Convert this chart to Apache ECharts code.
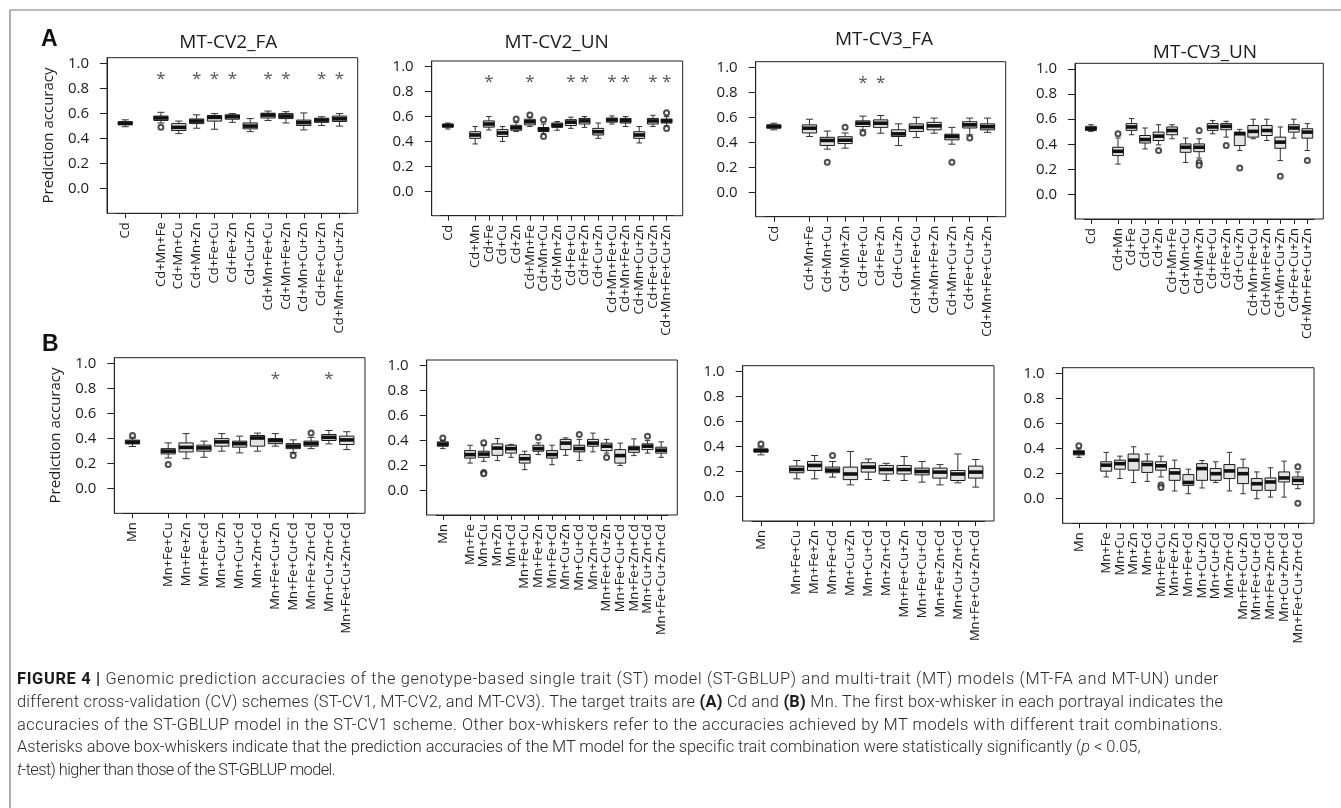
<!DOCTYPE html>
<html>
<head>
<meta charset="utf-8">
<script src="https://cdn.jsdelivr.net/npm/echarts@6/dist/echarts.min.js"></script>
<style>
  html, body { margin: 0; padding: 0; background: #fff; }
  #chart { position: absolute; left: 0; top: 0; width: 1341px; height: 808px; }
  #caption {
    position: absolute; left: 17px; top: 668px; width: 1320px;
    font-family: Roboto, "Liberation Sans", sans-serif; font-weight: 300;
    font-size: 16.4px; line-height: 22.8px; color: #2a2a2a; white-space: nowrap;
  }
  #caption span { display: inline-block; }
  #caption b { font-weight: 700; color: #1a1a1a; }
</style>
</head>
<body>
<div id="chart"></div>
<div id="caption">
  <div><span data-w="1202"><b>FIGURE 4 |</b> Genomic prediction accuracies of the genotype-based single trait (ST) model (ST-GBLUP) and multi-trait (MT) models (MT-FA and MT-UN) under</span></div>
  <div><span data-w="1206">different cross-validation (CV) schemes (ST-CV1, MT-CV2, and MT-CV3). The target traits are <b>(A)</b> Cd and <b>(B)</b> Mn. The first box-whisker in each portrayal indicates the</span></div>
  <div><span data-w="1206">accuracies of the ST-GBLUP model in the ST-CV1 scheme. Other box-whiskers refer to the accuracies achieved by MT models with different trait combinations.</span></div>
  <div><span data-w="1123">Asterisks above box-whiskers indicate that the prediction accuracies of the MT model for the specific trait combination were statistically significantly (<i>p</i> &lt; 0.05,</span></div>
  <div><span data-w="318"><i>t</i>-test) higher than those of the ST-GBLUP model.</span></div>
</div>
<script>
// ---- trait combinations on the x axes ----
const cdCombosShort = ['Cd+Mn+Fe', 'Cd+Mn+Cu', 'Cd+Mn+Zn', 'Cd+Fe+Cu', 'Cd+Fe+Zn', 'Cd+Cu+Zn',
  'Cd+Mn+Fe+Cu', 'Cd+Mn+Fe+Zn', 'Cd+Mn+Cu+Zn', 'Cd+Fe+Cu+Zn', 'Cd+Mn+Fe+Cu+Zn'];
const cdCombosFull = ['Cd+Mn', 'Cd+Fe', 'Cd+Cu', 'Cd+Zn', 'Cd+Mn+Fe', 'Cd+Mn+Cu', 'Cd+Mn+Zn',
  'Cd+Fe+Cu', 'Cd+Fe+Zn', 'Cd+Cu+Zn', 'Cd+Mn+Fe+Cu', 'Cd+Mn+Fe+Zn', 'Cd+Mn+Cu+Zn',
  'Cd+Fe+Cu+Zn', 'Cd+Mn+Fe+Cu+Zn'];
const mnCombosShort = ['Mn+Fe+Cu', 'Mn+Fe+Zn', 'Mn+Fe+Cd', 'Mn+Cu+Zn', 'Mn+Cu+Cd', 'Mn+Zn+Cd',
  'Mn+Fe+Cu+Zn', 'Mn+Fe+Cu+Cd', 'Mn+Fe+Zn+Cd', 'Mn+Cu+Zn+Cd', 'Mn+Fe+Cu+Zn+Cd'];
const mnCombosFull = ['Mn+Fe', 'Mn+Cu', 'Mn+Zn', 'Mn+Cd', 'Mn+Fe+Cu', 'Mn+Fe+Zn', 'Mn+Fe+Cd',
  'Mn+Cu+Zn', 'Mn+Cu+Cd', 'Mn+Zn+Cd', 'Mn+Fe+Cu+Zn', 'Mn+Fe+Cu+Cd', 'Mn+Fe+Zn+Cd',
  'Mn+Cu+Zn+Cd', 'Mn+Fe+Cu+Zn+Cd'];

// ---- box statistics: [lower whisker, Q1, median, Q3, upper whisker]; first row = ST-GBLUP ----
const cv2FaCd = [
  [0.495, 0.51, 0.523, 0.535, 0.55],
  [0.525, 0.545, 0.565, 0.58, 0.61], [0.44, 0.465, 0.49, 0.52, 0.54], [0.483, 0.52, 0.54, 0.557, 0.59],
  [0.475, 0.54, 0.57, 0.585, 0.60], [0.53, 0.555, 0.575, 0.59, 0.60], [0.456, 0.478, 0.50, 0.525, 0.56],
  [0.545, 0.565, 0.588, 0.603, 0.62], [0.525, 0.56, 0.58, 0.60, 0.615], [0.47, 0.505, 0.528, 0.548, 0.605],
  [0.505, 0.53, 0.548, 0.563, 0.575], [0.50, 0.537, 0.558, 0.58, 0.60]
];
const cv2UnCd = [
  [0.50, 0.515, 0.527, 0.54, 0.548],
  [0.38, 0.425, 0.452, 0.478, 0.52], [0.492, 0.515, 0.54, 0.565, 0.60], [0.40, 0.44, 0.468, 0.495, 0.52],
  [0.48, 0.49, 0.51, 0.53, 0.553], [0.52, 0.533, 0.558, 0.578, 0.595], [0.465, 0.48, 0.495, 0.512, 0.54],
  [0.49, 0.513, 0.53, 0.548, 0.56], [0.505, 0.528, 0.555, 0.575, 0.595], [0.513, 0.54, 0.565, 0.585, 0.60],
  [0.425, 0.452, 0.478, 0.505, 0.548], [0.54, 0.555, 0.573, 0.588, 0.605], [0.52, 0.548, 0.567, 0.585, 0.60],
  [0.388, 0.425, 0.452, 0.478, 0.52], [0.52, 0.54, 0.565, 0.585, 0.61], [0.525, 0.548, 0.565, 0.58, 0.60]
];
const cv3FaCd = [
  [0.50, 0.513, 0.527, 0.54, 0.553],
  [0.447, 0.475, 0.513, 0.54, 0.585], [0.345, 0.375, 0.415, 0.44, 0.49], [0.353, 0.39, 0.417, 0.445, 0.475],
  [0.50, 0.527, 0.553, 0.572, 0.61], [0.473, 0.52, 0.553, 0.58, 0.615], [0.374, 0.447, 0.468, 0.50, 0.548],
  [0.438, 0.487, 0.52, 0.548, 0.60], [0.473, 0.50, 0.532, 0.56, 0.594], [0.385, 0.42, 0.447, 0.465, 0.52],
  [0.46, 0.515, 0.54, 0.565, 0.594], [0.48, 0.50, 0.525, 0.548, 0.594]
];
const cv3UnCd = [
  [0.503, 0.511, 0.524, 0.543, 0.556],
  [0.242, 0.31, 0.344, 0.376, 0.45], [0.476, 0.511, 0.538, 0.565, 0.605], [0.363, 0.41, 0.438, 0.47, 0.53],
  [0.395, 0.43, 0.465, 0.497, 0.556], [0.444, 0.476, 0.51, 0.538, 0.556], [0.255, 0.336, 0.376, 0.403, 0.45],
  [0.29, 0.341, 0.376, 0.403, 0.444], [0.484, 0.511, 0.538, 0.565, 0.59], [0.457, 0.516, 0.543, 0.565, 0.583],
  [0.35, 0.39, 0.484, 0.497, 0.519], [0.444, 0.457, 0.503, 0.55, 0.60], [0.43, 0.47, 0.51, 0.55, 0.60],
  [0.27, 0.368, 0.417, 0.457, 0.538], [0.449, 0.497, 0.53, 0.556, 0.60], [0.35, 0.449, 0.497, 0.524, 0.565]
];
const cv2FaMn = [
  [0.337, 0.358, 0.372, 0.388, 0.405],
  [0.246, 0.278, 0.30, 0.32, 0.366], [0.24, 0.294, 0.33, 0.366, 0.44], [0.251, 0.30, 0.326, 0.348, 0.38],
  [0.30, 0.34, 0.374, 0.40, 0.44], [0.286, 0.332, 0.36, 0.38, 0.42], [0.30, 0.34, 0.405, 0.425, 0.444],
  [0.34, 0.36, 0.385, 0.40, 0.44], [0.29, 0.32, 0.34, 0.36, 0.39], [0.32, 0.34, 0.36, 0.38, 0.41],
  [0.358, 0.385, 0.41, 0.433, 0.465], [0.313, 0.353, 0.39, 0.42, 0.455]
];
const cv2UnMn = [
  [0.336, 0.355, 0.372, 0.39, 0.40],
  [0.22, 0.26, 0.288, 0.32, 0.363], [0.234, 0.266, 0.292, 0.315, 0.36], [0.24, 0.282, 0.34, 0.374, 0.417],
  [0.266, 0.30, 0.336, 0.363, 0.37], [0.167, 0.22, 0.255, 0.288, 0.315], [0.288, 0.315, 0.336, 0.363, 0.382],
  [0.207, 0.26, 0.288, 0.32, 0.363], [0.282, 0.328, 0.38, 0.41, 0.422], [0.24, 0.31, 0.336, 0.363, 0.41],
  [0.31, 0.355, 0.38, 0.41, 0.46], [0.30, 0.32, 0.355, 0.38, 0.41], [0.20, 0.22, 0.28, 0.328, 0.38],
  [0.28, 0.306, 0.336, 0.355, 0.414], [0.30, 0.328, 0.355, 0.374, 0.40], [0.266, 0.30, 0.323, 0.347, 0.39]
];
const cv3FaMn = [
  [0.333, 0.355, 0.368, 0.38, 0.395],
  [0.141, 0.19, 0.216, 0.243, 0.288], [0.141, 0.208, 0.248, 0.28, 0.328], [0.155, 0.19, 0.21, 0.235, 0.28],
  [0.093, 0.135, 0.18, 0.235, 0.36], [0.136, 0.195, 0.235, 0.27, 0.30], [0.128, 0.18, 0.216, 0.248, 0.265],
  [0.128, 0.18, 0.215, 0.248, 0.32], [0.115, 0.173, 0.20, 0.227, 0.28], [0.093, 0.147, 0.195, 0.227, 0.255],
  [0.109, 0.128, 0.18, 0.208, 0.34], [0.075, 0.147, 0.195, 0.243, 0.296]
];
const cv3UnMn = [
  [0.33, 0.35, 0.367, 0.383, 0.397],
  [0.174, 0.22, 0.268, 0.295, 0.37], [0.161, 0.236, 0.28, 0.308, 0.34], [0.129, 0.228, 0.308, 0.357, 0.415],
  [0.139, 0.21, 0.273, 0.30, 0.357], [0.174, 0.228, 0.263, 0.295, 0.34], [0.062, 0.147, 0.206, 0.241, 0.308],
  [0.04, 0.107, 0.13, 0.193, 0.236], [0.086, 0.147, 0.241, 0.28, 0.305], [0.129, 0.147, 0.20, 0.241, 0.295],
  [0.062, 0.161, 0.222, 0.273, 0.37], [0.04, 0.121, 0.20, 0.247, 0.316], [0.0, 0.067, 0.12, 0.161, 0.214],
  [0.013, 0.067, 0.134, 0.166, 0.247], [0.013, 0.134, 0.166, 0.214, 0.30], [0.08, 0.113, 0.147, 0.174, 0.214]
];

// ---- outlying points ----
const cv2FaCdOut = [['Cd+Mn+Fe', 0.49]];
const cv2UnCdOut = [['Cd+Zn', 0.58], ['Cd+Mn+Fe', 0.612], ['Cd+Mn+Cu', 0.575], ['Cd+Mn+Cu', 0.44],
  ['Cd+Mn+Fe+Cu+Zn', 0.63], ['Cd+Mn+Fe+Cu+Zn', 0.505]];
const cv3FaCdOut = [['Cd+Mn+Cu', 0.24], ['Cd+Mn+Zn', 0.52], ['Cd+Fe+Cu', 0.475], ['Cd+Mn+Cu+Zn', 0.24],
  ['Cd+Fe+Cu+Zn', 0.435]];
const cv3UnCdOut = [['Cd+Mn', 0.484], ['Cd+Zn', 0.35], ['Cd+Mn+Zn', 0.51], ['Cd+Mn+Zn', 0.255],
  ['Cd+Mn+Zn', 0.232], ['Cd+Fe+Zn', 0.39], ['Cd+Cu+Zn', 0.21], ['Cd+Mn+Cu+Zn', 0.145],
  ['Cd+Mn+Fe+Cu+Zn', 0.27]];
const cv2FaMnOut = [['Mn', 0.425], ['Mn+Fe+Cu', 0.193], ['Mn+Fe+Cu+Cd', 0.265], ['Mn+Fe+Zn+Cd', 0.444]];
const cv2UnMnOut = [['Mn', 0.42], ['Mn+Cu', 0.382], ['Mn+Cu', 0.145], ['Mn+Cu', 0.135], ['Mn+Fe+Zn', 0.427],
  ['Mn+Cu+Cd', 0.449], ['Mn+Fe+Cu+Zn', 0.265], ['Mn+Cu+Zn+Cd', 0.435]];
const cv3FaMnOut = [['Mn', 0.42], ['Mn+Fe+Cd', 0.328]];
const cv3UnMnOut = [['Mn', 0.424], ['Mn+Fe+Cu', 0.11], ['Mn+Fe+Cu', 0.09], ['Mn+Fe+Cu+Zn+Cd', 0.255],
  ['Mn+Fe+Cu+Zn+Cd', -0.035]];

// ---- combinations significantly better than ST-GBLUP (p < 0.05) ----
const cv2FaCdStars = ['Cd+Mn+Fe', 'Cd+Mn+Zn', 'Cd+Fe+Cu', 'Cd+Fe+Zn', 'Cd+Mn+Fe+Cu', 'Cd+Mn+Fe+Zn',
  'Cd+Fe+Cu+Zn', 'Cd+Mn+Fe+Cu+Zn'];
const cv2UnCdStars = ['Cd+Fe', 'Cd+Mn+Fe', 'Cd+Fe+Cu', 'Cd+Fe+Zn', 'Cd+Mn+Fe+Cu', 'Cd+Mn+Fe+Zn',
  'Cd+Fe+Cu+Zn', 'Cd+Mn+Fe+Cu+Zn'];
const cv3FaCdStars = ['Cd+Fe+Cu', 'Cd+Fe+Zn'];
const cv2FaMnStars = ['Mn+Fe+Cu+Zn', 'Mn+Cu+Zn+Cd'];

// ---- y axis ----
const yTickValues = [0, 0.2, 0.4, 0.6, 0.8, 1.0];
const Y_MIN = -0.196, Y_MAX = 1.046;   // R's 4 % padding around [-0.15, 1]
const STAR_LEVEL = 0.875;

const panels = [
  { title: 'MT-CV2_FA', base: 'Cd', combos: cdCombosShort, stats: cv2FaCd, out: cv2FaCdOut, stars: cv2FaCdStars, yName: true },
  { title: 'MT-CV2_UN', base: 'Cd', combos: cdCombosFull, stats: cv2UnCd, out: cv2UnCdOut, stars: cv2UnCdStars },
  { title: 'MT-CV3_FA', base: 'Cd', combos: cdCombosShort, stats: cv3FaCd, out: cv3FaCdOut, stars: cv3FaCdStars },
  { title: 'MT-CV3_UN', base: 'Cd', combos: cdCombosFull, stats: cv3UnCd, out: cv3UnCdOut, stars: [] },
  { title: '', base: 'Mn', combos: mnCombosShort, stats: cv2FaMn, out: cv2FaMnOut, stars: cv2FaMnStars, yName: true },
  { title: '', base: 'Mn', combos: mnCombosFull, stats: cv2UnMn, out: cv2UnMnOut, stars: [] },
  { title: '', base: 'Mn', combos: mnCombosShort, stats: cv3FaMn, out: cv3FaMnOut, stars: [] },
  { title: '', base: 'Mn', combos: mnCombosFull, stats: cv3UnMn, out: cv3UnMnOut, stars: [] }
];

// panel boxes [left, top, right, bottom] in px, and title centres
const frames = [
  [107, 57.7, 357.7, 213.3], [431.7, 61, 682.7, 215.7], [755.7, 61.7, 1005.7, 216.7], [1075, 63.3, 1323.3, 219],
  [114.3, 357.7, 365, 513.3], [426.7, 360, 677.3, 515], [742.7, 365.7, 994, 521], [1062.7, 367.7, 1314, 523.3]
];
const titleCentres = [[228.3, 43], [556.7, 43], [884, 39.5], [1205, 53]];

const FONT = '"Open Sans", "Noto Sans", sans-serif';
const INK = '#1c1c1c';

function renderBox(params, api) {
  const i = api.value(0);
  const lo = api.coord([i, api.value(1)]);
  const q1 = api.coord([i, api.value(2)]);
  const md = api.coord([i, api.value(3)]);
  const q3 = api.coord([i, api.value(4)]);
  const hi = api.coord([i, api.value(5)]);
  const band = Math.abs(api.coord([1, 0])[0] - api.coord([0, 0])[0]);
  const bw = band * 0.8, sw = band * 0.4, cx = md[0];
  const seg = (xa, ya, xb, yb) => ({
    type: 'line', shape: { x1: xa, y1: ya, x2: xb, y2: yb },
    style: { stroke: '#333', lineWidth: 1 }
  });
  return {
    type: 'group',
    children: [
      seg(cx, q3[1], cx, hi[1]),
      seg(cx, q1[1], cx, lo[1]),
      seg(cx - sw / 2, hi[1], cx + sw / 2, hi[1]),
      seg(cx - sw / 2, lo[1], cx + sw / 2, lo[1]),
      { type: 'rect', shape: { x: cx - bw / 2, y: q3[1], width: bw, height: q1[1] - q3[1] },
        style: { fill: '#e3e3e3', stroke: '#1a1a1a', lineWidth: 1 } },
      { type: 'rect', shape: { x: cx - bw / 2, y: md[1] - 1.8, width: bw, height: 3.6 },
        style: { fill: '#111' } }
    ]
  };
}

function renderStar(params, api) {
  const p = api.coord([api.value(0), api.value(1)]);
  return {
    type: 'text', x: p[0], y: p[1],
    style: { text: '*', fill: '#555', fontSize: 17, fontFamily: FONT, align: 'center', verticalAlign: 'middle' }
  };
}

const grid = [], xAxis = [], yAxis = [], series = [];

panels.forEach((p, k) => {
  const [x0, y0, x1, y1] = frames[k];
  const W = x1 - x0, H = y1 - y0;
  const inset = W * 0.04 / 1.08;
  const cats = [p.base, ''].concat(p.combos);
  const fg = 2 * k, dg = 2 * k + 1;

  grid.push({ left: x0, top: y0, width: W, height: H, show: true, borderColor: '#222', borderWidth: 1,
    backgroundColor: 'transparent' });
  grid.push({ left: x0 + inset, top: y0, width: W - 2 * inset, height: H });

  xAxis.push({ gridIndex: fg, type: 'value', min: 0, max: 1, show: false });
  yAxis.push({
    gridIndex: fg, type: 'value', min: Y_MIN, max: Y_MAX,
    name: p.yName ? 'Prediction accuracy' : '', nameLocation: 'middle', nameGap: 51,
    nameTextStyle: { fontSize: 15, color: INK, fontFamily: FONT },
    axisLine: { show: true, onZero: false, lineStyle: { color: '#222', width: 1 } },
    axisTick: { show: true, length: 7, customValues: yTickValues, lineStyle: { color: '#222' } },
    axisLabel: { customValues: yTickValues, formatter: v => v.toFixed(1), fontSize: 15, color: INK,
      fontFamily: FONT, margin: 18 },
    splitLine: { show: false }
  });

  xAxis.push({
    gridIndex: dg, type: 'category', data: cats, boundaryGap: true, position: 'bottom',
    axisLine: { show: true, onZero: false, lineStyle: { color: '#222', width: 1 } },
    axisTick: { show: true, inside: false, alignWithLabel: true, length: 5, interval: (i, v) => v !== '',
      lineStyle: { color: '#222', width: 1 } },
    axisLabel: { interval: 0, rotate: 90, fontSize: 13, color: INK, fontFamily: FONT, margin: 9 },
    splitLine: { show: false }
  });
  yAxis.push({ gridIndex: dg, type: 'value', min: Y_MIN, max: Y_MAX, show: false });

  const boxData = p.stats.map((s, i) => [i === 0 ? 0 : i + 1].concat(s));
  series.push({
    type: 'custom', xAxisIndex: dg, yAxisIndex: dg, renderItem: renderBox,
    encode: { x: 0, y: [1, 2, 3, 4, 5] }, data: boxData, silent: true, z: 2
  });
  series.push({
    type: 'scatter', xAxisIndex: dg, yAxisIndex: dg, symbol: 'emptyCircle', symbolSize: 5,
    itemStyle: { color: '#222', borderWidth: 1 }, data: p.out.map(o => [cats.indexOf(o[0]), o[1]]),
    silent: true, z: 3
  });
  if (p.stars.length) {
    series.push({
      type: 'custom', xAxisIndex: dg, yAxisIndex: dg, renderItem: renderStar,
      encode: { x: 0, y: 1 }, data: p.stars.map(s => [cats.indexOf(s), STAR_LEVEL]), silent: true, z: 3
    });
  }
});

const graphic = [
  { type: 'line', shape: { x1: 10, y1: 10, x2: 1341, y2: 10 }, style: { stroke: '#7a7a7a', lineWidth: 1.2 } },
  { type: 'line', shape: { x1: 10, y1: 10, x2: 10, y2: 808 }, style: { stroke: '#7a7a7a', lineWidth: 1.2 } },
  { type: 'text', x: 41, y: 39.5, style: { text: 'A', fontSize: 23, fontWeight: 'bold', fontFamily: '"Liberation Sans", Arial, sans-serif',
    fill: '#111', align: 'left', verticalAlign: 'middle' } },
  { type: 'text', x: 42, y: 344.5, style: { text: 'B', fontSize: 23, fontWeight: 'bold', fontFamily: '"Liberation Sans", Arial, sans-serif',
    fill: '#111', align: 'left', verticalAlign: 'middle' } }
];
titleCentres.forEach((c, k) => {
  graphic.push({ type: 'text', x: c[0], y: c[1], style: { text: panels[k].title, fontSize: 19, fontFamily: FONT,
    fill: INK, align: 'center', verticalAlign: 'middle' } });
});

const chart = echarts.init(document.getElementById('chart'), null, { renderer: 'canvas' });
chart.setOption({
  animation: false,
  backgroundColor: '#fff',
  textStyle: { fontFamily: FONT },
  grid, xAxis, yAxis, series, graphic
});

// fit each caption line to its set width by spreading the letters
document.querySelectorAll('#caption span[data-w]').forEach(el => {
  const target = parseFloat(el.dataset.w);
  const chars = el.textContent.length;
  const natural = el.getBoundingClientRect().width;
  el.style.letterSpacing = ((target - natural) / chars).toFixed(3) + 'px';
});
</script>
</body>
</html>
